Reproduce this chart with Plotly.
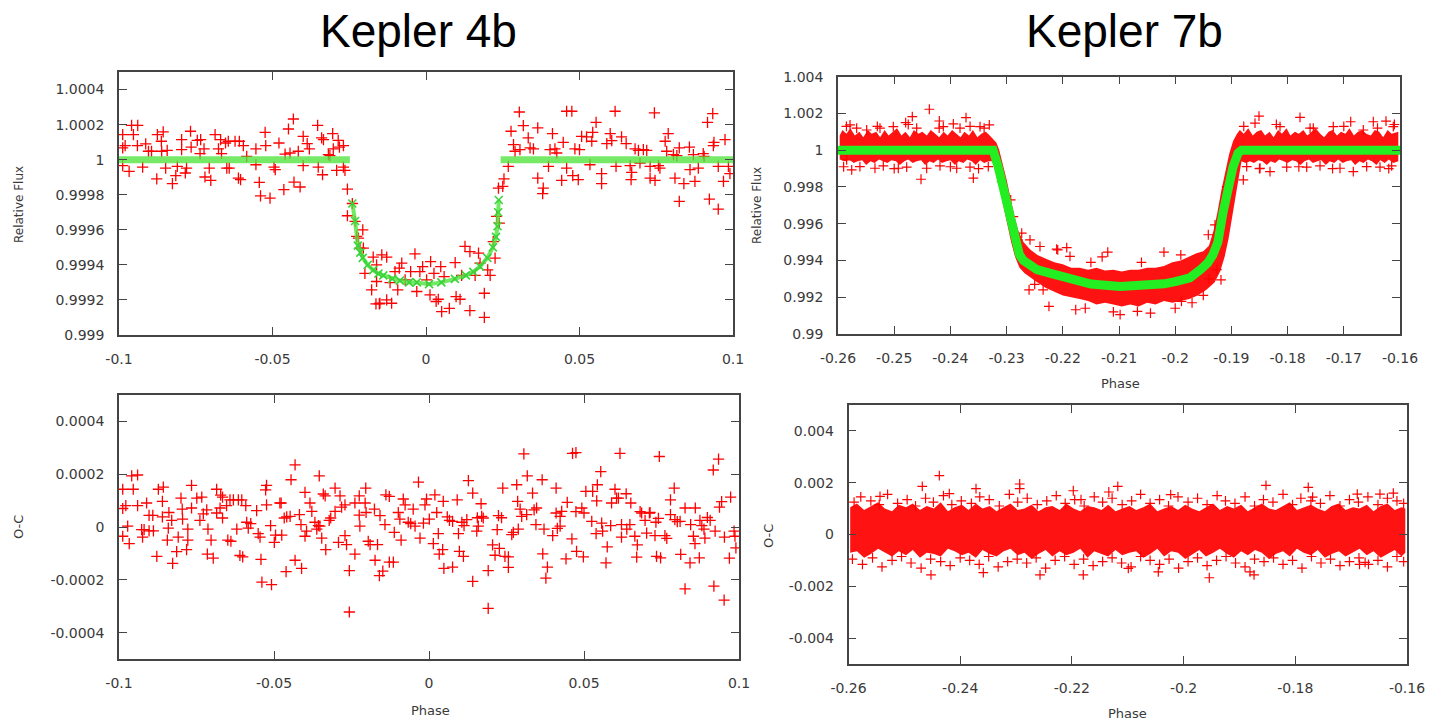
import numpy as np
import plotly.graph_objects as go

# ---------------- Kepler 4b : light curve (phase, relative flux) ----------------
k4_phase = [
    -0.0988, -0.0988, -0.0988, -0.0980, -0.0967, -0.0959, -0.0939, -0.0953, -0.0940, -0.0923,
    -0.0913, -0.0904, -0.0894, -0.0875, -0.0856, -0.0862, -0.0861, -0.0877, -0.0848, -0.0843,
    -0.0826, -0.0815, -0.0810, -0.0796, -0.0796, -0.0784, -0.0780, -0.0767, -0.0765, -0.0745,
    -0.0734, -0.0736, -0.0723, -0.0720, -0.0701, -0.0706, -0.0687, -0.0676, -0.0669, -0.0666,
    -0.0653, -0.0644, -0.0649, -0.0641, -0.0622, -0.0608, -0.0611, -0.0604, -0.0595, -0.0584,
    -0.0554, -0.0554, -0.0543, -0.0539, -0.0508, -0.0524, -0.0522, -0.0495, -0.0491, -0.0479,
    -0.0463, -0.0459, -0.0448, -0.0443, -0.0432, -0.0430, -0.0416, -0.0410, -0.0400, -0.0400,
    -0.0387, -0.0380, -0.0353, -0.0351, -0.0340, -0.0334, -0.0337, -0.0318, -0.0313, -0.0304,
    -0.0302, -0.0291, -0.0286, -0.0282, -0.0269, -0.0269, -0.0264,
    -0.0256, -0.0256, -0.0240, -0.0231, -0.0226, -0.0220, -0.0206, -0.0215, -0.0204, -0.0199,
    -0.0172, -0.0177, -0.0161, -0.0163, -0.0152, -0.0161,
    -0.0144, -0.0128, -0.0150, -0.0128, -0.0112, -0.0117, -0.0101, -0.0087, -0.0079, -0.0092,
    -0.0068, -0.0050, -0.0036, -0.0030, -0.0020, -0.0011, 0.0002, 0.0015, 0.0013, 0.0026,
    0.0033, 0.0040, 0.0048, 0.0051, 0.0059, 0.0076, 0.0095, 0.0098, 0.0111, 0.0116,
    0.0127, 0.0143, 0.0143, 0.0160, 0.0171, 0.0176, 0.0190, 0.0190, 0.0201, 0.0209,
    0.0219, 0.0225, 0.0230, 0.0239,
    0.0236, 0.0250, 0.0254, 0.0268,
    0.0277, 0.0285, 0.0290, 0.0306, 0.0304, 0.0317, 0.0333, 0.0339, 0.0350, 0.0364,
    0.0364, 0.0382, 0.0380, 0.0399, 0.0412, 0.0404, 0.0420, 0.0426, 0.0442, 0.0447,
    0.0458, 0.0458, 0.0475, 0.0478, 0.0496, 0.0485, 0.0500, 0.0507, 0.0523, 0.0534,
    0.0540, 0.0543, 0.0554, 0.0572, 0.0572, 0.0589, 0.0600, 0.0605, 0.0616, 0.0619,
    0.0637, 0.0652, 0.0665, 0.0670, 0.0668, 0.0681, 0.0692, 0.0697, 0.0708, 0.0719,
    0.0730, 0.0730, 0.0746, 0.0744, 0.0757, 0.0762, 0.0779, 0.0784, 0.0789, 0.0806,
    0.0817, 0.0811, 0.0825, 0.0825, 0.0840, 0.0858, 0.0860, 0.0871, 0.0876, 0.0887,
    0.0903, 0.0906, 0.0917, 0.0923, 0.0934, 0.0938, 0.0936, 0.0952, 0.0952, 0.0969,
    0.0974, 0.0985, 0.0990,
]
k4_flux = [
    1.000143, 0.999966, 1.000067, 1.000080, 0.999933, 1.000196, 1.000196, 1.000143, 1.000080, 0.999958,
    1.000090, 1.000048, 1.000048, 1.000143, 1.000158, 1.000105, 1.000048, 0.999891, 0.999952, 1.000053,
    0.999863, 0.999909, 0.999962, 1.000114, 1.000057, 0.999924, 0.999952, 1.000162, 1.000072, 1.000110,
    1.000114, 1.000034, 1.000061, 0.999901, 0.999882, 0.999952, 1.000143, 1.000061, 1.000114, 1.000034,
    1.000095, 1.000105, 0.999952, 0.999952, 1.000105, 1.000105, 0.999895, 0.999886, 1.000080, 1.000019,
    1.000061, 0.999971, 0.999870, 0.999794, 0.999781, 1.000156, 1.000080, 0.999958, 0.999943, 1.000095,
    0.999829, 1.000032, 1.000175, 1.000038, 1.000232, 0.999872, 1.000048, 0.999844, 0.999966, 1.000133,
    1.000091, 1.000061, 1.000196, 0.999958, 1.000124, 1.000114, 0.999914, 1.000029, 1.000023, 1.000149,
    1.000061, 0.999939, 1.000110, 1.000072, 1.000080, 0.999958, 0.999939,
    0.999832, 0.999680, 0.999750, 0.999648, 0.999562, 0.999552, 0.999600, 0.999495, 0.999495, 0.999352,
    0.999444, 0.999257, 0.999305, 0.999177, 0.999177, 0.999400,
    0.999457, 0.999444, 0.999181, 0.999200, 0.999181, 0.999299, 0.999362, 0.999381, 0.999410, 0.999257,
    0.999314, 0.999362, 0.999463, 0.999248, 0.999362, 0.999390, 0.999314, 0.999419, 0.999229, 0.999352,
    0.999191, 0.999204, 0.999390, 0.999133, 0.999333, 0.999152, 0.999413, 0.999219, 0.999204, 0.999340,
    0.999505, 0.999476, 0.999139, 0.999340, 0.999467, 0.999410, 0.999238, 0.999101, 0.999371, 0.999340,
    0.999533, 0.999438, 0.999676, 0.999638,
    0.999838, 0.999848, 0.999890, 0.999962,
    1.000162, 1.000086, 1.000048, 1.000057, 1.000272, 1.000194, 1.000124, 1.000067, 1.000061, 1.000181,
    0.999895, 0.999838, 0.999806, 0.999962, 1.000149, 1.000057, 1.000061, 1.000038, 0.999882, 1.000099,
    0.999952, 1.000276, 1.000276, 0.999909, 0.999886, 1.000061, 1.000057, 1.000133, 1.000130, 0.999971,
    1.000105, 1.000156, 1.000213, 0.999920, 0.999863, 1.000091, 1.000149, 1.000109, 1.000276, 0.999962,
    1.000130, 1.000091, 0.999966, 0.999928, 0.999886, 1.000061, 1.000053, 0.999981, 1.000057, 1.000053,
    0.999962, 0.999895, 0.999882, 1.000267, 0.999966, 0.999952, 1.000105, 1.000048, 1.000149, 1.000029,
    1.000023, 0.999895, 1.000067, 0.999762, 0.999863, 1.000072, 0.999943, 1.000029, 0.999876, 0.999952,
    1.000034, 1.000019, 1.000213, 0.999775, 1.000263, 1.000099, 1.000080, 0.999962, 0.999718, 0.999876,
    1.000114, 0.999962, 0.999920,
]

# Kepler 4b transit model (green)
k4_flat_phase = [-0.1, -0.0248, None, 0.0243, 0.1]
k4_flat_flux = [1.0, 1.0, None, 1.0, 1.0]
k4_fit_phase = [-0.0240, -0.0231, -0.0222, -0.0214, -0.0206, -0.0190, -0.0172, -0.0155, -0.0139, -0.0110,
                -0.0085, -0.0055, -0.0030, 0.0010, 0.0050, 0.0094, 0.0130, 0.0154, 0.0176, 0.0200,
                0.0218, 0.0228, 0.0233, 0.0235, 0.0237]
k4_fit_flux = [0.99975, 0.99965, 0.99951, 0.99947, 0.99944, 0.99940, 0.99937, 0.99935, 0.99934, 0.99932,
               0.99931, 0.99930, 0.99930, 0.99929, 0.99930, 0.99932, 0.99934, 0.99936, 0.99939, 0.99944,
               0.99950, 0.99956, 0.99962, 0.99970, 0.99977]

# Kepler 4b residuals (O-C), values in units of 1e-4
k4_oc_phase = [
    -0.0988, -0.0988, -0.0988, -0.0978, -0.0972, -0.0967, -0.0959, -0.0940, -0.0954, -0.0940,
    -0.0927, -0.0919, -0.0924, -0.0911, -0.0903, -0.0891, -0.0903, -0.0889, -0.0878, -0.0873,
    -0.0857, -0.0860, -0.0860, -0.0844, -0.0841, -0.0839, -0.0830, -0.0827, -0.0814, -0.0809,
    -0.0800, -0.0796, -0.0795, -0.0778, -0.0778, -0.0782, -0.0766, -0.0766, -0.0749, -0.0733,
    -0.0739, -0.0728, -0.0717, -0.0715, -0.0713, -0.0703, -0.0696, -0.0685, -0.0672, -0.0666,
    -0.0685, -0.0674, -0.0666, -0.0653, -0.0642, -0.0649, -0.0639, -0.0631, -0.0615, -0.0604,
    -0.0620, -0.0610, -0.0601, -0.0591, -0.0588, -0.0583, -0.0575, -0.0556, -0.0551, -0.0545,
    -0.0542, -0.0539, -0.0527, -0.0524, -0.0524, -0.0511, -0.0508, -0.0499, -0.0495, -0.0475,
    -0.0481, -0.0477, -0.0467, -0.0459, -0.0448, -0.0461, -0.0445, -0.0432, -0.0432, -0.0418,
    -0.0413, -0.0411, -0.0400, -0.0400, -0.0395, -0.0384, -0.0378, -0.0368, -0.0362, -0.0357,
    -0.0352, -0.0354, -0.0346, -0.0341, -0.0335, -0.0333, -0.0322, -0.0317, -0.0303, -0.0303,
    -0.0287, -0.0292, -0.0271, -0.0266, -0.0282, -0.0271, -0.0257, -0.0257, -0.0239, -0.0239,
    -0.0225, -0.0225, -0.0223, -0.0204, -0.0206, -0.0203, -0.0196, -0.0190, -0.0176, -0.0174,
    -0.0166, -0.0158, -0.0160, -0.0149, -0.0142, -0.0139, -0.0128, -0.0128, -0.0115, -0.0112,
    -0.0099, -0.0094, -0.0090, -0.0083, -0.0077, -0.0067, -0.0059, -0.0051, -0.0045, -0.0034,
    -0.0029, -0.0018, -0.0013, -0.0008, 0.0001, 0.0014, 0.0019, 0.0025, 0.0030, 0.0033,
    0.0044, 0.0046, 0.0048, 0.0076, 0.0059, 0.0066, 0.0076, 0.0091, 0.0095, 0.0098,
    0.0111, 0.0106, 0.0113, 0.0122, 0.0127, 0.0141, 0.0141, 0.0154, 0.0159, 0.0156,
    0.0170, 0.0175, 0.0168, 0.0191, 0.0191, 0.0205, 0.0213, 0.0220, 0.0227, 0.0224,
    0.0234, 0.0238, 0.0245, 0.0256, 0.0256, 0.0267, 0.0272, 0.0283, 0.0286, 0.0288,
    0.0294, 0.0299, 0.0306, 0.0315, 0.0317, 0.0334, 0.0339, 0.0347, 0.0345, 0.0365,
    0.0367, 0.0371, 0.0382, 0.0377, 0.0399, 0.0410, 0.0414, 0.0423, 0.0410, 0.0423,
    0.0428, 0.0442, 0.0446, 0.0461, 0.0463, 0.0474, 0.0474, 0.0476, 0.0498, 0.0493,
    0.0500, 0.0506, 0.0528, 0.0525, 0.0539, 0.0543, 0.0541, 0.0554, 0.0557, 0.0560,
    0.0571, 0.0575, 0.0586, 0.0589, 0.0600, 0.0605, 0.0611, 0.0616, 0.0621, 0.0621,
    0.0636, 0.0638, 0.0648, 0.0651, 0.0664, 0.0670, 0.0672, 0.0681, 0.0686, 0.0713,
    0.0697, 0.0702, 0.0729, 0.0711, 0.0732, 0.0740, 0.0734, 0.0747, 0.0743, 0.0761,
    0.0767, 0.0779, 0.0779, 0.0791, 0.0793, 0.0801, 0.0810, 0.0812, 0.0826, 0.0826,
    0.0844, 0.0842, 0.0853, 0.0858, 0.0859, 0.0874, 0.0880, 0.0872, 0.0887, 0.0890,
    0.0898, 0.0907, 0.0917, 0.0919, 0.0923, 0.0934, 0.0937, 0.0944, 0.0952, 0.0953,
    0.0969, 0.0973, 0.0984, 0.0987, 0.0990,
]
k4_oc_e4 = [
    1.43, 0.70, -0.35, 0.81, 0.03, -0.63, 1.94, 1.97, 1.43, 0.81,
    -0.10, -0.10, -0.38, 0.91, 0.44, 0.44, -0.15, -0.15, -1.11, 1.43,
    1.51, 0.97, 0.38, -0.50, -0.04, 0.55, 0.25, -1.38, -0.93, -0.38,
    1.09, 0.68, 0.30, -0.08, -0.50, -0.86, 1.58, 0.72, 1.09, 1.13,
    0.25, 0.50, 0.65, -1.03, -0.08, -0.50, -1.18, 1.43, 1.21, 1.13,
    0.53, 0.72, 0.34, 0.81, 1.03, -0.50, -0.54, 1.03, 1.03, 1.03,
    -0.08, -1.08, -1.13, 0.81, 0.18, -0.04, 0.13, 0.62, -0.25, -0.38,
    -1.23, -2.09, 1.41, 1.58, 0.84, 0.05, -2.18, -0.58, -0.31, -0.31,
    0.91, 0.91, 0.34, 0.38, 0.40, -1.69, 1.79, 2.35, -1.26, 0.47,
    0.09, -1.57, 1.31, -0.35, -0.16, 0.91, 0.59, 0.18, -0.08, 0.05,
    0.03, 1.94, -0.42, 1.25, 1.18, -0.86, 0.25, 0.34, 1.47, 0.59,
    1.18, -0.58, -0.33, -0.67, 0.75, 0.84, -1.65, -3.22, -1.03, 0.91,
    1.18, 0.45, 0.03, 1.47, 0.91, 0.55, -0.54, -0.67, 0.68, -1.26,
    -0.67, 0.43, -1.84, -1.67, 0.09, 1.22, 1.16, -1.33, -1.33, -0.20,
    0.55, 0.30, -0.50, 1.06, 0.84, 0.18, 0.13, 0.68, 0.03, 1.70,
    -0.42, 0.15, 0.84, 1.06, 0.30, -0.63, 1.22, 0.55, -0.25, -1.03,
    -0.86, 0.97, -1.57, -1.52, 0.38, 0.25, 0.21, 1.03, -0.25, -0.92,
    -1.11, 0.18, 0.05, 0.28, 1.76, 1.28, -2.06, -0.16, 0.03, 0.35,
    0.40, 0.34, 0.88, -1.65, -3.08, -0.68, -1.07, -0.10, -0.81, 0.43,
    0.35, 1.47, -1.11, -1.13, -1.53, -0.29, -0.20, 1.60, 0.97, -0.08,
    0.68, 0.40, 2.77, 0.47, 1.94, 1.28, 0.65, 0.72, 0.09, 1.79,
    -1.02, -0.08, -1.52, -1.94, -0.33, 1.47, -0.05, 0.03, 0.53, 0.40,
    0.59, -1.21, 0.93, -0.45, 2.79, 2.82, 0.58, -0.92, -1.13, 0.72,
    0.53, 1.35, 1.35, 0.21, -0.25, 1.60, 0.99, 2.10, 0.15, -0.16,
    -1.36, -0.75, 0.05, 0.91, 1.43, 1.09, 1.09, 2.79, -0.38, 0.09,
    1.26, -0.08, 0.09, 0.91, -0.35, -1.14, -0.68, 0.58, 0.53, 0.55,
    0.25, -0.23, -0.33, 0.53, 0.18, 0.33, -1.11, -1.17, 2.67, -0.33,
    -0.43, 1.03, 0.47, 1.47, 0.28, 0.20, 0.21, -1.04, -2.34, 0.72,
    0.09, -1.36, -0.35, -0.63, 0.72, 0.25, 0.05, -1.17, -0.08, -0.42,
    0.36, 0.25, 2.16, -2.24, -0.16, 2.57, 0.75, 0.96, -2.77, -0.38,
    -1.18, 1.13, -0.16, -0.35, -0.79,
]

# ---------------- Kepler 7b : light curve ----------------
# outline of the dense cloud of measurements (upper edge left->right, lower edge right->left)
k7_cloud_phase = [
    -0.2597, -0.2592, -0.2585, -0.2578, -0.2570, -0.2562, -0.2555, -0.2547, -0.2540, -0.2532,
    -0.2525, -0.2517, -0.2510, -0.2502, -0.2495, -0.2487, -0.2480, -0.2472, -0.2465, -0.2457,
    -0.2450, -0.2442, -0.2435, -0.2427, -0.2420, -0.2412, -0.2405, -0.2397, -0.2390, -0.2382,
    -0.2375, -0.2367, -0.2360, -0.2352, -0.2345, -0.2337, -0.2330, -0.2324,
    -0.2318, -0.2313, -0.2307, -0.2300, -0.2293, -0.2286, -0.2279, -0.2270, -0.2258, -0.2245,
    -0.2230, -0.2215, -0.2200, -0.2185, -0.2170, -0.2155, -0.2140, -0.2125, -0.2110, -0.2095,
    -0.2080, -0.2065, -0.2050, -0.2035, -0.2020, -0.2005, -0.1990, -0.1975, -0.1962, -0.1950,
    -0.1940, -0.1932, -0.1925, -0.1918, -0.1911, -0.1904, -0.1897, -0.1890,
    -0.1885, -0.1878, -0.1870, -0.1862, -0.1855, -0.1847, -0.1840, -0.1832, -0.1825, -0.1817,
    -0.1810, -0.1802, -0.1795, -0.1787, -0.1780, -0.1772, -0.1765, -0.1757, -0.1750, -0.1742,
    -0.1735, -0.1727, -0.1720, -0.1712, -0.1705, -0.1697, -0.1690, -0.1682, -0.1675, -0.1667,
    -0.1660, -0.1652, -0.1645, -0.1637, -0.1630, -0.1622, -0.1615, -0.1603,
    -0.1603, -0.1612, -0.1620, -0.1627, -0.1635, -0.1642, -0.1650, -0.1657, -0.1665, -0.1672,
    -0.1680, -0.1687, -0.1695, -0.1702, -0.1710, -0.1717, -0.1725, -0.1732, -0.1740, -0.1747,
    -0.1755, -0.1762, -0.1770, -0.1777, -0.1785, -0.1792, -0.1800, -0.1807, -0.1815, -0.1822,
    -0.1830, -0.1837, -0.1845, -0.1852, -0.1860, -0.1867, -0.1875, -0.1882,
    -0.1884, -0.1888, -0.1893, -0.1899, -0.1905, -0.1912, -0.1920, -0.1930, -0.1945, -0.1960,
    -0.1975, -0.1990, -0.2005, -0.2020, -0.2035, -0.2050, -0.2065, -0.2080, -0.2095, -0.2110,
    -0.2125, -0.2140, -0.2155, -0.2170, -0.2185, -0.2200, -0.2215, -0.2230, -0.2245, -0.2258,
    -0.2268, -0.2277, -0.2285, -0.2292, -0.2299, -0.2306, -0.2313, -0.2320, -0.2326,
    -0.2332, -0.2340, -0.2347, -0.2355, -0.2362, -0.2370, -0.2377, -0.2385, -0.2392, -0.2400,
    -0.2407, -0.2415, -0.2422, -0.2430, -0.2437, -0.2445, -0.2452, -0.2460, -0.2467, -0.2475,
    -0.2482, -0.2490, -0.2497, -0.2505, -0.2512, -0.2520, -0.2527, -0.2535, -0.2542, -0.2550,
    -0.2557, -0.2565, -0.2572, -0.2580, -0.2587, -0.2597,
]
k7_cloud_flux = [
    1.0008, 1.0011, 1.0009, 1.0012, 1.0008, 1.0010, 1.0007, 1.0011, 1.0009, 1.0010,
    1.0007, 1.0011, 1.0008, 1.0010, 1.0012, 1.0008, 1.0010, 1.0007, 1.0011, 1.0009,
    1.0010, 1.0008, 1.0011, 1.0009, 1.0007, 1.0010, 1.0008, 1.0011, 1.0009, 1.0007,
    1.0010, 1.0008, 1.0011, 1.0007, 1.0009, 1.0010, 1.0008, 1.0006,
    1.0004, 1.0000, 0.9993, 0.9984, 0.9974, 0.9964, 0.9956, 0.9950, 0.9946, 0.9943,
    0.9941, 0.9939, 0.9938, 0.9936, 0.9936, 0.9935, 0.9936, 0.99345, 0.9935, 0.9934,
    0.9935, 0.9935, 0.9936, 0.9936, 0.9937, 0.9939, 0.9940, 0.9942, 0.9944, 0.9945,
    0.9948, 0.9956, 0.9966, 0.9978, 0.9989, 0.9998, 1.0005, 1.0009,
    1.0011, 1.0009, 1.0012, 1.0008, 1.0010, 1.0011, 1.0008, 1.0010, 1.0007, 1.0011,
    1.0009, 1.0012, 1.0008, 1.0010, 1.0009, 1.0011, 1.0008, 1.0010, 1.0012, 1.0009,
    1.0007, 1.0010, 1.0011, 1.0008, 1.0010, 1.0009, 1.0012, 1.0008, 1.0010, 1.0011,
    1.0009, 1.0008, 1.0011, 1.0010, 1.0007, 1.0011, 1.0009, 1.0010,
    0.9994, 0.9993, 0.9995, 0.9993, 0.99945, 0.9992, 0.9994, 0.9995, 0.9993, 0.9994,
    0.9992, 0.99945, 0.9994, 0.9993, 0.9995, 0.9993, 0.9994, 0.9992, 0.99945, 0.9994,
    0.9993, 0.9995, 0.9994, 0.9992, 0.9994, 0.99945, 0.9993, 0.9994, 0.9995, 0.9993,
    0.9994, 0.9992, 0.9994, 0.99945, 0.9993, 0.9994, 0.9993, 0.9994,
    0.9990, 0.9983, 0.9974, 0.9963, 0.9952, 0.9942, 0.9934, 0.9928, 0.9924, 0.9921,
    0.9919, 0.9918, 0.9917, 0.9918, 0.9916, 0.9917, 0.9915, 0.9916, 0.9915, 0.9916,
    0.9917, 0.9916, 0.9918, 0.9919, 0.9920, 0.9921, 0.9923, 0.9925, 0.9928, 0.9931,
    0.9933, 0.9936, 0.9942, 0.9950, 0.9960, 0.9970, 0.9981, 0.9990, 0.9994,
    0.9994, 0.9993, 0.99945, 0.9992, 0.9994, 0.9995, 0.9993, 0.9994, 0.9992, 0.99945,
    0.9994, 0.9993, 0.9995, 0.9993, 0.9994, 0.9992, 0.99945, 0.9994, 0.9993, 0.9995,
    0.9994, 0.9992, 0.9994, 0.99945, 0.9993, 0.9994, 0.9995, 0.9993, 0.9994, 0.9992,
    0.99945, 0.9994, 0.9993, 0.9995, 0.9994, 0.9995,
]
# individual measurements visible at the edges of the cloud
k7_pts_phase = [
    -0.24375, -0.24678, -0.24197, -0.23722, -0.24523, -0.23592, -0.23308, -0.23948, -0.24796, -0.25786,
    -0.25756, -0.25610, -0.25342, -0.25194, -0.24927, -0.24778, -0.24422, -0.24185, -0.23888, -0.23651,
    -0.23326, -0.25846, -0.25668, -0.25490, -0.25253, -0.25016, -0.24600, -0.24126, -0.23829, -0.23473,
    -0.23087, -0.22927, -0.22880, -0.22731, -0.22584, -0.22406, -0.22109, -0.21872,
    -0.18509, -0.17779, -0.16877, -0.16475, -0.16249, -0.16831, -0.18313, -0.18788, -0.18580, -0.18135,
    -0.17543, -0.17187, -0.16653, -0.16119, -0.18728, -0.18491, -0.18016, -0.17660, -0.17423, -0.17068,
    -0.16593, -0.16356, -0.16148, -0.19292, -0.19411, -0.19084,
    -0.2177, -0.2098, -0.2044, -0.2260, -0.1950, -0.2130, -0.2120, -0.2020, -0.2209, -0.2193,
    -0.22246, -0.20672, -0.19888, -0.2280, -0.19185, -0.1926,
    -0.2235, -0.2160, -0.2110, -0.2000, -0.1970, -0.2150, -0.2060, -0.1990, -0.2250, -0.1940,
    -0.2585, -0.2530, -0.2475, -0.2420, -0.2365, -0.2340, -0.1878, -0.1820, -0.1760, -0.1700,
    -0.1640, -0.1610, -0.2590, -0.2500, -0.2400, -0.2350, -0.1850, -0.1780, -0.1720, -0.1620,
]
k7_pts_flux = [
    1.00223, 1.00183, 1.00159, 1.00177, 0.99842, 0.99848, 1.00138, 1.00143, 1.00150, 1.00138,
    0.99893, 0.99911, 0.99902, 0.99915, 0.99902, 0.99908, 0.99902, 0.99915, 0.99902, 0.99908,
    0.99911, 0.99947, 1.00120, 1.00110, 1.00120, 1.00128, 1.00120, 1.00128, 1.00120, 1.00128,
    0.99829, 0.99730, 0.99639, 0.99549, 0.99512, 0.99476, 0.99462, 0.99422,
    1.00186, 1.00179, 1.00155, 1.00155, 1.00158, 0.99884, 0.99884, 0.99839, 1.00147, 1.00128,
    1.00120, 1.00128, 1.00110, 1.00128, 0.99911, 0.99902, 0.99908, 0.99908, 0.99915, 0.99902,
    0.99911, 0.99908, 0.99915, 0.99594, 0.99540, 0.99802,
    0.99132, 0.99105, 0.99114, 0.99240, 0.99210, 0.99420, 0.99445, 0.99445, 0.99458, 0.99470,
    0.99150, 0.99123, 0.99177, 0.99512, 0.99295, 0.99350,
    0.99240, 0.99140, 0.99120, 0.99140, 0.99170, 0.99390, 0.99390, 0.99430, 0.99270, 0.99300,
    1.00130, 1.00130, 1.00140, 1.00120, 1.00130, 1.00120, 1.00130, 1.00140, 1.00120, 1.00130,
    1.00120, 1.00140, 0.99910, 0.99900, 0.99910, 0.99900, 0.99900, 0.99910, 0.99900, 0.99900,
]
# Kepler 7b transit model (green)
k7_fit_phase = [-0.2600, -0.2324, -0.2315, -0.2306, -0.2297, -0.2288, -0.2283, -0.2277, -0.2270, -0.2260,
                -0.2246, -0.2225, -0.2200, -0.2177, -0.2150, -0.2098, -0.2050, -0.2020, -0.2000, -0.1974,
                -0.1955, -0.1942, -0.1933, -0.1924, -0.1915, -0.1906, -0.1897, -0.1888, -0.1882, -0.1600]
k7_fit_flux = [1.0, 1.0, 0.9991, 0.9980, 0.9969, 0.99567, 0.9948, 0.9943, 0.9940, 0.99375,
               0.9935, 0.99333, 0.99310, 0.99286, 0.99272, 0.99259, 0.99264, 0.99273, 0.99285, 0.99306,
               0.99350, 0.99387, 0.9943, 0.9950, 0.99659, 0.99802, 0.99911, 0.99985, 1.0, 1.0]

# Kepler 7b residuals: dense band outline (values in units of 1e-3)
k7_oc_band_phase = [
    -0.2597, -0.2585, -0.2572, -0.2560, -0.2547, -0.2535, -0.2522, -0.2510, -0.2497, -0.2485,
    -0.2472, -0.2460, -0.2447, -0.2435, -0.2422, -0.2410, -0.2397, -0.2385, -0.2372, -0.2360,
    -0.2347, -0.2335, -0.2322, -0.2310, -0.2297, -0.2285, -0.2272, -0.2260, -0.2247, -0.2235,
    -0.2222, -0.2210, -0.2197, -0.2185, -0.2172, -0.2160, -0.2147, -0.2135, -0.2122, -0.2110,
    -0.2097, -0.2085, -0.2072, -0.2060, -0.2047, -0.2035, -0.2022, -0.2010, -0.1997, -0.1985,
    -0.1972, -0.1960, -0.1947, -0.1935, -0.1922, -0.1910, -0.1897, -0.1885, -0.1872, -0.1860,
    -0.1847, -0.1835, -0.1822, -0.1810, -0.1797, -0.1785, -0.1772, -0.1760, -0.1747, -0.1735,
    -0.1722, -0.1710, -0.1697, -0.1685, -0.1672, -0.1660, -0.1647, -0.1635, -0.1622, -0.1610,
    -0.1603,
    -0.1603, -0.1610, -0.1622, -0.1635, -0.1647, -0.1660, -0.1672, -0.1685, -0.1697, -0.1710,
    -0.1722, -0.1735, -0.1747, -0.1760, -0.1772, -0.1785, -0.1797, -0.1810, -0.1822, -0.1835,
    -0.1847, -0.1860, -0.1872, -0.1885, -0.1897, -0.1910, -0.1922, -0.1935, -0.1947, -0.1960,
    -0.1972, -0.1985, -0.1997, -0.2010, -0.2022, -0.2035, -0.2047, -0.2060, -0.2072, -0.2085,
    -0.2097, -0.2110, -0.2122, -0.2135, -0.2147, -0.2160, -0.2172, -0.2185, -0.2197, -0.2210,
    -0.2222, -0.2235, -0.2247, -0.2260, -0.2272, -0.2285, -0.2297, -0.2310, -0.2322, -0.2335,
    -0.2347, -0.2360, -0.2372, -0.2385, -0.2397, -0.2410, -0.2422, -0.2435, -0.2447, -0.2460,
    -0.2472, -0.2485, -0.2497, -0.2510, -0.2522, -0.2535, -0.2547, -0.2560, -0.2572, -0.2585,
    -0.2597,
]
k7_oc_band_e3 = [
    1.05, 1.20, 0.95, 1.10, 1.25, 1.00, 0.90, 1.15, 1.05, 1.20,
    0.95, 1.10, 1.00, 1.25, 0.90, 1.05, 1.15, 0.95, 1.20, 1.00,
    1.10, 0.90, 1.05, 1.20, 0.95, 1.00, 1.15, 0.90, 1.05, 1.10,
    0.95, 1.20, 1.00, 0.90, 1.10, 1.05, 0.95, 1.15, 0.90, 1.00,
    1.10, 0.95, 1.05, 1.20, 0.90, 1.00, 1.10, 0.95, 1.15, 1.00,
    0.90, 1.05, 1.20, 0.95, 1.10, 1.00, 1.15, 0.90, 1.05, 1.20,
    1.00, 0.95, 1.10, 1.25, 0.95, 1.05, 1.15, 1.00, 0.90, 1.10,
    1.20, 0.95, 1.05, 1.00, 1.15, 0.90, 1.10, 1.20, 0.95, 1.05,
    1.00,
    -0.70, -0.85, -0.60, -0.75, -0.90, -0.65, -0.80, -0.55, -0.70, -0.85,
    -0.65, -0.75, -0.90, -0.60, -0.80, -0.70, -0.55, -0.85, -0.65, -0.75,
    -0.95, -0.70, -0.60, -0.80, -0.65, -0.90, -0.75, -0.55, -0.70, -0.85,
    -0.60, -0.80, -0.95, -0.70, -0.65, -0.85, -0.55, -0.75, -0.90, -0.65,
    -0.70, -0.80, -0.60, -0.85, -0.75, -0.65, -0.90, -0.55, -0.70, -0.80,
    -0.65, -0.85, -0.60, -0.75, -0.95, -0.70, -0.80, -0.55, -0.65, -0.85,
    -0.75, -0.60, -0.90, -0.70, -0.80, -0.65, -0.55, -0.85, -0.75, -0.70,
    -0.90, -0.60, -0.80, -0.65, -0.85, -0.70, -0.55, -0.75, -0.90, -0.65,
    -0.70,
]
k7_oc_pts_phase = [
    -0.24374, -0.24679, -0.24195, -0.23717, -0.22935, -0.22935, -0.21975, -0.21837, -0.24523, -0.23586,
    -0.22571, -0.21796, -0.25436, -0.21178, -0.21339, -0.20231, -0.19540, -0.18811, -0.18739, -0.18525,
    -0.17768, -0.17690, -0.16890, -0.16484, -0.16245, -0.20990, -0.20453, -0.16850, -0.16750,
    -0.2590, -0.2578, -0.2560, -0.2545, -0.2530, -0.2512, -0.2495, -0.2480, -0.2462, -0.2448,
    -0.2430, -0.2415, -0.2398, -0.2380, -0.2365, -0.2348, -0.2330, -0.2312, -0.2297, -0.2280,
    -0.2262, -0.2245, -0.2228, -0.2212, -0.2195, -0.2178, -0.2160, -0.2145, -0.2128, -0.2110,
    -0.2093, -0.2077, -0.2060, -0.2043, -0.2027, -0.2010, -0.1992, -0.1975, -0.1958, -0.1940,
    -0.1925, -0.1908, -0.1890, -0.1873, -0.1857, -0.1840, -0.1822, -0.1805, -0.1790, -0.1772,
    -0.1755, -0.1738, -0.1720, -0.1703, -0.1687, -0.1670, -0.1652, -0.1635, -0.1618, -0.1606,
    -0.2593, -0.2575, -0.2557, -0.2540, -0.2522, -0.2505, -0.2488, -0.2470, -0.2453, -0.2435,
    -0.2418, -0.2400, -0.2383, -0.2366, -0.2349, -0.2332, -0.2315, -0.2298, -0.2281, -0.2264,
    -0.2247, -0.2230, -0.2213, -0.2196, -0.2179, -0.2162, -0.2145, -0.2128, -0.2111, -0.2094,
    -0.2077, -0.2060, -0.2043, -0.2026, -0.2009, -0.1992, -0.1975, -0.1958, -0.1941, -0.1924,
    -0.1907, -0.1890, -0.1873, -0.1856, -0.1839, -0.1822, -0.1805, -0.1788, -0.1771, -0.1754,
    -0.1737, -0.1720, -0.1703, -0.1686, -0.1669, -0.1652, -0.1635, -0.1618, -0.1606,
]
k7_oc_pts_e3 = [
    2.27, 1.86, 1.58, 1.77, 1.95, 1.77, 1.69, 1.35, -1.56, -1.47,
    -1.56, -1.56, 1.47, 1.86, 1.64, 1.54, -1.67, -1.44, -1.56, 1.90,
    1.82, 1.44, 1.56, 1.56, 1.60, -1.31, -1.44, -1.15, -1.08,
    1.25, 1.45, 1.30, 1.15, 1.55, 1.20, 1.35, 1.10, 1.40, 1.25,
    1.50, 1.15, 1.30, 1.20, 1.45, 1.35, 1.10, 1.55, 1.25, 1.40,
    1.15, 1.30, 1.50, 1.20, 1.35, 1.10, 1.45, 1.25, 1.40, 1.15,
    1.30, 1.55, 1.20, 1.35, 1.10, 1.45, 1.25, 1.40, 1.15, 1.50,
    1.30, 1.20, 1.45, 1.10, 1.35, 1.25, 1.55, 1.15, 1.40, 1.30,
    1.20, 1.50, 1.10, 1.35, 1.25, 1.45, 1.15, 1.40, 1.30, 1.20,
    -0.95, -1.15, -0.90, -1.25, -1.00, -0.85, -1.10, -1.30, -0.95, -1.05,
    -1.20, -0.90, -1.00, -1.15, -0.85, -1.25, -1.05, -0.95, -1.10, -0.90,
    -1.30, -1.00, -0.85, -1.15, -0.95, -1.20, -1.05, -0.90, -1.10, -1.25,
    -0.85, -1.00, -1.15, -0.95, -1.30, -1.05, -0.90, -1.20, -1.00, -0.85,
    -1.10, -1.25, -0.95, -1.05, -0.90, -1.15, -1.00, -1.30, -0.85, -1.10,
    -0.95, -1.20, -1.05, -0.90, -1.15, -1.00, -1.25, -0.85, -1.05,
]

# ---------------- tick labels ----------------
k4_x_ticks = [-0.1, -0.05, 0, 0.05, 0.1]
k4_x_labels = ["-0.1", "-0.05", "0", "0.05", "0.1"]
k4_flux_ticks = [0.999, 0.9992, 0.9994, 0.9996, 0.9998, 1.0, 1.0002, 1.0004]
k4_flux_labels = ["0.999", "0.9992", "0.9994", "0.9996", "0.9998", "1", "1.0002", "1.0004"]
k4_oc_ticks = [-0.0004, -0.0002, 0, 0.0002, 0.0004]
k4_oc_labels = ["-0.0004", "-0.0002", "0", "0.0002", "0.0004"]
k7_x_ticks_top = [-0.26, -0.25, -0.24, -0.23, -0.22, -0.21, -0.20, -0.19, -0.18, -0.17, -0.16]
k7_x_labels_top = ["-0.26", "-0.25", "-0.24", "-0.23", "-0.22", "-0.21", "-0.2", "-0.19", "-0.18", "-0.17", "-0.16"]
k7_x_ticks_bot = [-0.26, -0.24, -0.22, -0.20, -0.18, -0.16]
k7_x_labels_bot = ["-0.26", "-0.24", "-0.22", "-0.2", "-0.18", "-0.16"]
k7_flux_ticks = [0.99, 0.992, 0.994, 0.996, 0.998, 1.0, 1.002, 1.004]
k7_flux_labels = ["0.99", "0.992", "0.994", "0.996", "0.998", "1", "1.002", "1.004"]
k7_oc_ticks = [-0.004, -0.002, 0, 0.002, 0.004]
k7_oc_labels = ["-0.004", "-0.002", "0", "0.002", "0.004"]

# ---------------- figure ----------------
W, H = 1431, 721
RED = "#ff0000"
plus = dict(symbol="cross-thin", size=8, line=dict(color=RED, width=1.3))
plus7 = dict(symbol="cross-thin", size=7, line=dict(color=RED, width=1.2))

fig = go.Figure()

# Kepler 4b light curve
fig.add_trace(go.Scatter(x=k4_phase, y=k4_flux, mode="markers", marker=plus,
                         xaxis="x", yaxis="y", showlegend=False))
fig.add_trace(go.Scatter(x=k4_flat_phase, y=k4_flat_flux, mode="lines",
                         line=dict(color="rgba(80,228,60,0.78)", width=7),
                         xaxis="x", yaxis="y", showlegend=False))
fig.add_trace(go.Scatter(x=k4_fit_phase, y=k4_fit_flux, mode="lines+markers",
                         line=dict(color="rgba(80,228,60,0.8)", width=4),
                         marker=dict(symbol="x-thin", size=8, line=dict(color="#3ad33a", width=1.6)),
                         xaxis="x", yaxis="y", showlegend=False))

# Kepler 4b residuals
fig.add_trace(go.Scatter(x=k4_oc_phase, y=np.array(k4_oc_e4) * 1e-4, mode="markers", marker=plus,
                         xaxis="x2", yaxis="y2", showlegend=False))

# Kepler 7b light curve
fig.add_trace(go.Scatter(x=k7_cloud_phase, y=k7_cloud_flux, mode="lines", fill="toself",
                         fillcolor="rgba(255,0,0,0.93)", line=dict(width=0, color=RED),
                         xaxis="x3", yaxis="y3", showlegend=False, hoverinfo="skip"))
fig.add_trace(go.Scatter(x=k7_pts_phase, y=k7_pts_flux, mode="markers", marker=plus7,
                         xaxis="x3", yaxis="y3", showlegend=False))
fig.add_trace(go.Scatter(x=k7_fit_phase, y=k7_fit_flux, mode="lines",
                         line=dict(color="#22ee22", width=9),
                         xaxis="x3", yaxis="y3", showlegend=False))

# Kepler 7b residuals
fig.add_trace(go.Scatter(x=k7_oc_band_phase, y=np.array(k7_oc_band_e3) * 1e-3, mode="lines", fill="toself",
                         fillcolor="rgba(255,0,0,0.93)", line=dict(width=0, color=RED),
                         xaxis="x4", yaxis="y4", showlegend=False, hoverinfo="skip"))
fig.add_trace(go.Scatter(x=k7_oc_pts_phase, y=np.array(k7_oc_pts_e3) * 1e-3, mode="markers", marker=plus7,
                         xaxis="x4", yaxis="y4", showlegend=False))

tickfont = dict(family="DejaVu Sans, Verdana, sans-serif", size=14, color="#3a3a3a")


def axis(domain, rng, tv, tt, anchor, standoff):
    return dict(domain=domain, range=rng, tickvals=tv, ticktext=tt, anchor=anchor,
                showline=True, linecolor="#444444", linewidth=1.5, mirror="ticks",
                ticks="inside", ticklen=8, tickwidth=1.2, tickcolor="#444444",
                showgrid=False, zeroline=False, tickfont=tickfont, automargin=False,
                ticklabelstandoff=standoff, fixedrange=True)


def xd(a, b):
    return [a / W, b / W]


def yd(top, bottom):
    return [1 - bottom / H, 1 - top / H]


fig.update_layout(
    width=W, height=H,
    margin=dict(l=0, r=0, t=0, b=0, pad=0, autoexpand=False),
    paper_bgcolor="white", plot_bgcolor="white",
    xaxis=axis(xd(119, 733), [-0.1, 0.1], k4_x_ticks, k4_x_labels, "y", 10),
    yaxis=axis(yd(72, 335), [0.999, 1.0005], k4_flux_ticks, k4_flux_labels, "x", 10),
    xaxis2=axis(xd(119, 739), [-0.1, 0.1], k4_x_ticks, k4_x_labels, "y2", 10),
    yaxis2=axis(yd(395, 659), [-0.0005, 0.0005], k4_oc_ticks, k4_oc_labels, "x2", 10),
    xaxis3=axis(xd(838, 1400), [-0.26, -0.16], k7_x_ticks_top, k7_x_labels_top, "y3", 10),
    yaxis3=axis(yd(76.7, 334), [0.99, 1.004], k7_flux_ticks, k7_flux_labels, "x3", 10),
    xaxis4=axis(xd(848.5, 1407), [-0.26, -0.16], k7_x_ticks_bot, k7_x_labels_bot, "y4", 10),
    yaxis4=axis(yd(405, 664), [-0.005, 0.005], k7_oc_ticks, k7_oc_labels, "x4", 10),
)

lab = dict(family="DejaVu Sans, Verdana, sans-serif", size=13, color="#3a3a3a")
title_font = dict(family="Liberation Sans, Arial, sans-serif", size=46, color="#000000")


def ann(text, px, py, font, angle=0):
    return dict(text=text, x=px / W, y=1 - py / H, xref="paper", yref="paper",
                showarrow=False, xanchor="center", yanchor="middle", textangle=angle, font=font)


fig.update_layout(annotations=[
    ann("Kepler 4b", 418, 31, title_font),
    ann("Kepler 7b", 1124, 31, title_font),
    ann("Relative Flux", 19, 205, dict(lab, size=12), -90),
    ann("Relative Flux", 757, 206, dict(lab, size=12), -90),
    ann("O-C", 18, 527, lab, -90),
    ann("O-C", 768, 536, lab, -90),
    ann("Phase", 430, 710, lab),
    ann("Phase", 1120, 383, lab),
    ann("Phase", 1127, 713, lab),
])

# remove the browser's default 8px page margin so the figure sits at the window origin
fig.write_html("out.html",
               config={"displayModeBar": False},
               post_script="document.body.style.margin='0';document.body.style.padding='0';")
